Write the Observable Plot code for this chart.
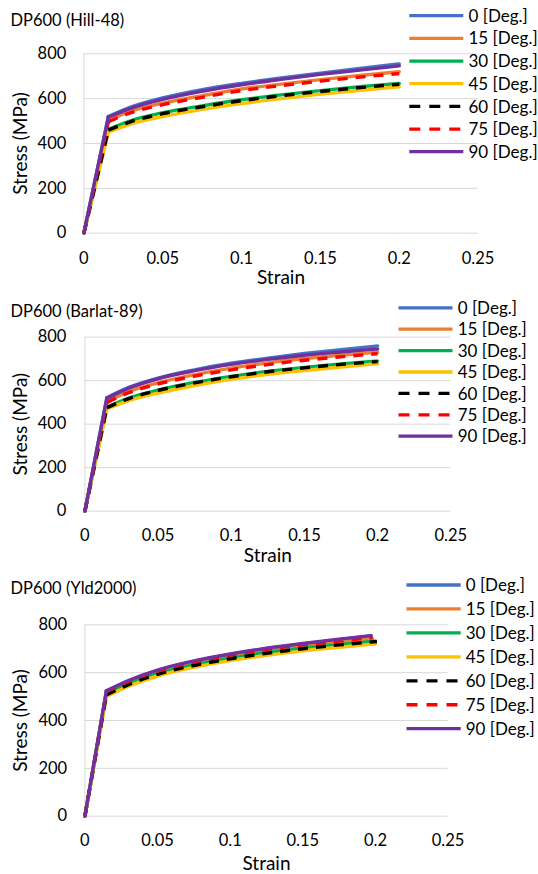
<!DOCTYPE html>
<html><head><meta charset="utf-8">
<script src="https://cdn.jsdelivr.net/npm/d3@7"></script>
<script src="https://cdn.jsdelivr.net/npm/@observablehq/plot@0.6"></script>
<style>
body{margin:0;background:#fff;font-family:Lato,"Open Sans",sans-serif;}
#root{position:relative;width:538px;height:874px;overflow:hidden;background:#fff;}
.panel{position:absolute;left:0;width:538px;}
.title{position:absolute;left:10.5px;font-size:16.5px;color:#000;white-space:nowrap;line-height:1;font-family:Lato,sans-serif;}
.legend{position:absolute;left:0;top:0;overflow:visible;}
</style></head><body><div id="root"></div>
<script>
// ---- data ----
const seriesLabels = ["0 [Deg.]","15 [Deg.]","30 [Deg.]","45 [Deg.]","60 [Deg.]","75 [Deg.]","90 [Deg.]"];
const seriesColors = ["#4472C4","#ED7D31","#00B050","#FFC000","#000000","#FF0000","#7030A0"];
const seriesDashed = [false,false,false,false,true,true,false];

const xTicks = [0,0.05,0.1,0.15,0.2,0.25];
const xTickLabels = ["0","0.05","0.1","0.15","0.2","0.25"];
const yTicks = [0,200,400,600,800];
const yTickLabels = ["0","200","400","600","800"];

const panelTitles = ["DP600 (Hill-48)","DP600 (Barlat-89)","DP600 (Yld2000)"];

// Hill-48
const strainHill = [0,0.0155,0.03,0.05,0.075,0.1,0.125,0.15,0.175,0.2];
const hill0  = [0,520,563,603,640,668,692,714,735,755];
const hill15 = [0,502,545,580,613,643,665,685,703,720];
const hill30 = [0,463,502,537,568,595,617,636,653,668];
const hill45 = [0,450,488,520,552,578,600,620,637,653];
const hill60 = [0,460,498,533,564,591,613,632,649,664];
const hill75 = [0,497,538,573,606,636,658,678,696,712];
const hill90 = [0,517,558,597,633,662,686,708,727,746];

// Barlat-89
const strainBarlat = [0,0.015,0.03,0.05,0.075,0.1,0.125,0.15,0.175,0.2];
const barlat0  = [0,522,569,612,650,680,704,725,743,760];
const barlat15 = [0,505,550,590,628,658,682,702,717,731];
const barlat30 = [0,478,520,557,592,620,643,661,677,690];
const barlat45 = [0,470,508,543,578,606,629,647,663,678];
const barlat60 = [0,476,518,555,590,618,641,659,675,688];
const barlat75 = [0,500,545,585,621,650,674,694,710,724];
const barlat90 = [0,519,566,609,646,675,698,717,732,746];

// Yld2000
const strainYld = [0,0.0148,0.03,0.05,0.075,0.1,0.125,0.15,0.175,0.2];
const yldEndStrain = [0.197,0.198,0.2,0.2,0.201,0.198,0.197];
const yld0  = [0,523,565,609,647,676,700,720,738,753];
const yld15 = [0,518,561,603,641,670,693,712,728,742];
const yld30 = [0,510,553,595,632,660,683,702,717,731];
const yld45 = [0,500,543,586,622,650,672,691,706,720];
const yld60 = [0,507,550,593,630,658,681,700,716,730];
const yld75 = [0,520,563,606,644,673,697,716,732,747];
const yld90 = [0,524,567,611,649,678,702,722,740,755];

// ---- layout ----
const panels = [
  {top:0, height:290, mt:53.3, mb:57.3, ml:83.4, mr:60.4, xPad:19, yPad:17.6, xLab:50.8, yLab:70, titleY:20,
   strain:strainHill, ends:null, series:[hill0,hill15,hill30,hill45,hill60,hill75,hill90],
   leg:{x1:409.3,x2:463.3,tx:468.5,y0:15.7,dy:22.67}},
  {top:290, height:280, mt:46.7, mb:59.3, ml:84.4, mr:87.7, xPad:18.5, yPad:18.5, xLab:51.1, yLab:71, titleY:21,
   strain:strainBarlat, ends:null, series:[barlat0,barlat15,barlat30,barlat45,barlat60,barlat75,barlat90],
   leg:{x1:398.5,x2:452.5,tx:457.7,y0:17.8,dy:21.4}},
  {top:570, height:304, mt:54.3, mb:58.3, ml:84.4, mr:90.4, xPad:18.5, yPad:17.7, xLab:54.1, yLab:71, titleY:18,
   strain:strainYld, ends:yldEndStrain, series:[yld0,yld15,yld30,yld45,yld60,yld75,yld90],
   leg:{x1:406.5,x2:460.7,tx:465.7,y0:15,dy:23.95}}
];

const root = document.getElementById("root");

panels.forEach((cfg, p) => {
  const div = document.createElement("div");
  div.className = "panel";
  div.style.top = cfg.top + "px";
  div.style.height = cfg.height + "px";
  root.appendChild(div);

  const marks = [
    Plot.ruleY(yTicks, {stroke:"#d9d9d9", strokeWidth:1}),
    Plot.ruleX([0], {stroke:"#d9d9d9", strokeWidth:1}),
    Plot.axisX({ticks:xTicks, tickSize:0, tickPadding:cfg.xPad, fontSize:16.5,
      tickFormat:d => xTickLabels[xTicks.indexOf(d)], label:null}),
    Plot.axisX({ticks:[], tickSize:0, label:"Strain", labelAnchor:"center", labelArrow:"none",
      labelOffset:cfg.xLab, fontSize:19}),
    Plot.axisY({ticks:yTicks, tickSize:0, tickPadding:cfg.yPad, fontSize:16.5,
      tickFormat:d => yTickLabels[yTicks.indexOf(d)], label:null}),
    Plot.axisY({ticks:[], tickSize:0, label:"Stress (MPa)", labelAnchor:"center", labelArrow:"none",
      labelOffset:cfg.yLab, fontSize:19})
  ];

  cfg.series.forEach((vals, i) => {
    const strains = cfg.strain.slice();
    if (cfg.ends) strains[strains.length - 1] = cfg.ends[i];
    const rows = vals.map((v, j) => ({strain: strains[j], stress: v}));
    const style = {x:"strain", y:"stress", stroke:seriesColors[i], strokeWidth:3.4,
      strokeLinejoin:"round", strokeLinecap: seriesDashed[i] ? "butt" : "round"};
    if (seriesDashed[i]) style.strokeDasharray = "10,8";
    marks.push(Plot.line(rows.slice(0, 2), style));
    marks.push(Plot.line(rows.slice(1), {...style, curve:"monotone-x"}));
  });

  const chart = Plot.plot({
    width:538, height:cfg.height,
    marginTop:cfg.mt, marginBottom:cfg.mb, marginLeft:cfg.ml, marginRight:cfg.mr,
    x:{domain:[0,0.25]},
    y:{domain:[0,800]},
    style:{fontFamily:"Lato, sans-serif", color:"#000", background:"transparent", overflow:"visible"},
    marks
  });
  div.appendChild(chart);

  const t = document.createElement("div");
  t.className = "title";
  t.textContent = panelTitles[p];
  t.style.top = (cfg.titleY - 8.5) + "px";
  div.appendChild(t);

  const leg = d3.select(div).append("svg").attr("class","legend")
    .attr("width",538).attr("height",cfg.height);
  seriesLabels.forEach((lab, i) => {
    const y = cfg.leg.y0 + i * cfg.leg.dy;
    const ln = leg.append("line").attr("x1",cfg.leg.x1).attr("x2",cfg.leg.x2)
      .attr("y1",y).attr("y2",y).attr("stroke",seriesColors[i]).attr("stroke-width",3.3);
    if (seriesDashed[i]) ln.attr("stroke-dasharray","11,9");
    leg.append("text").attr("x",cfg.leg.tx).attr("y",y).attr("dy","0.36em")
      .attr("font-family","Lato, sans-serif").attr("font-size",17).attr("fill","#000").text(lab);
  });
});
</script>
</body></html>
